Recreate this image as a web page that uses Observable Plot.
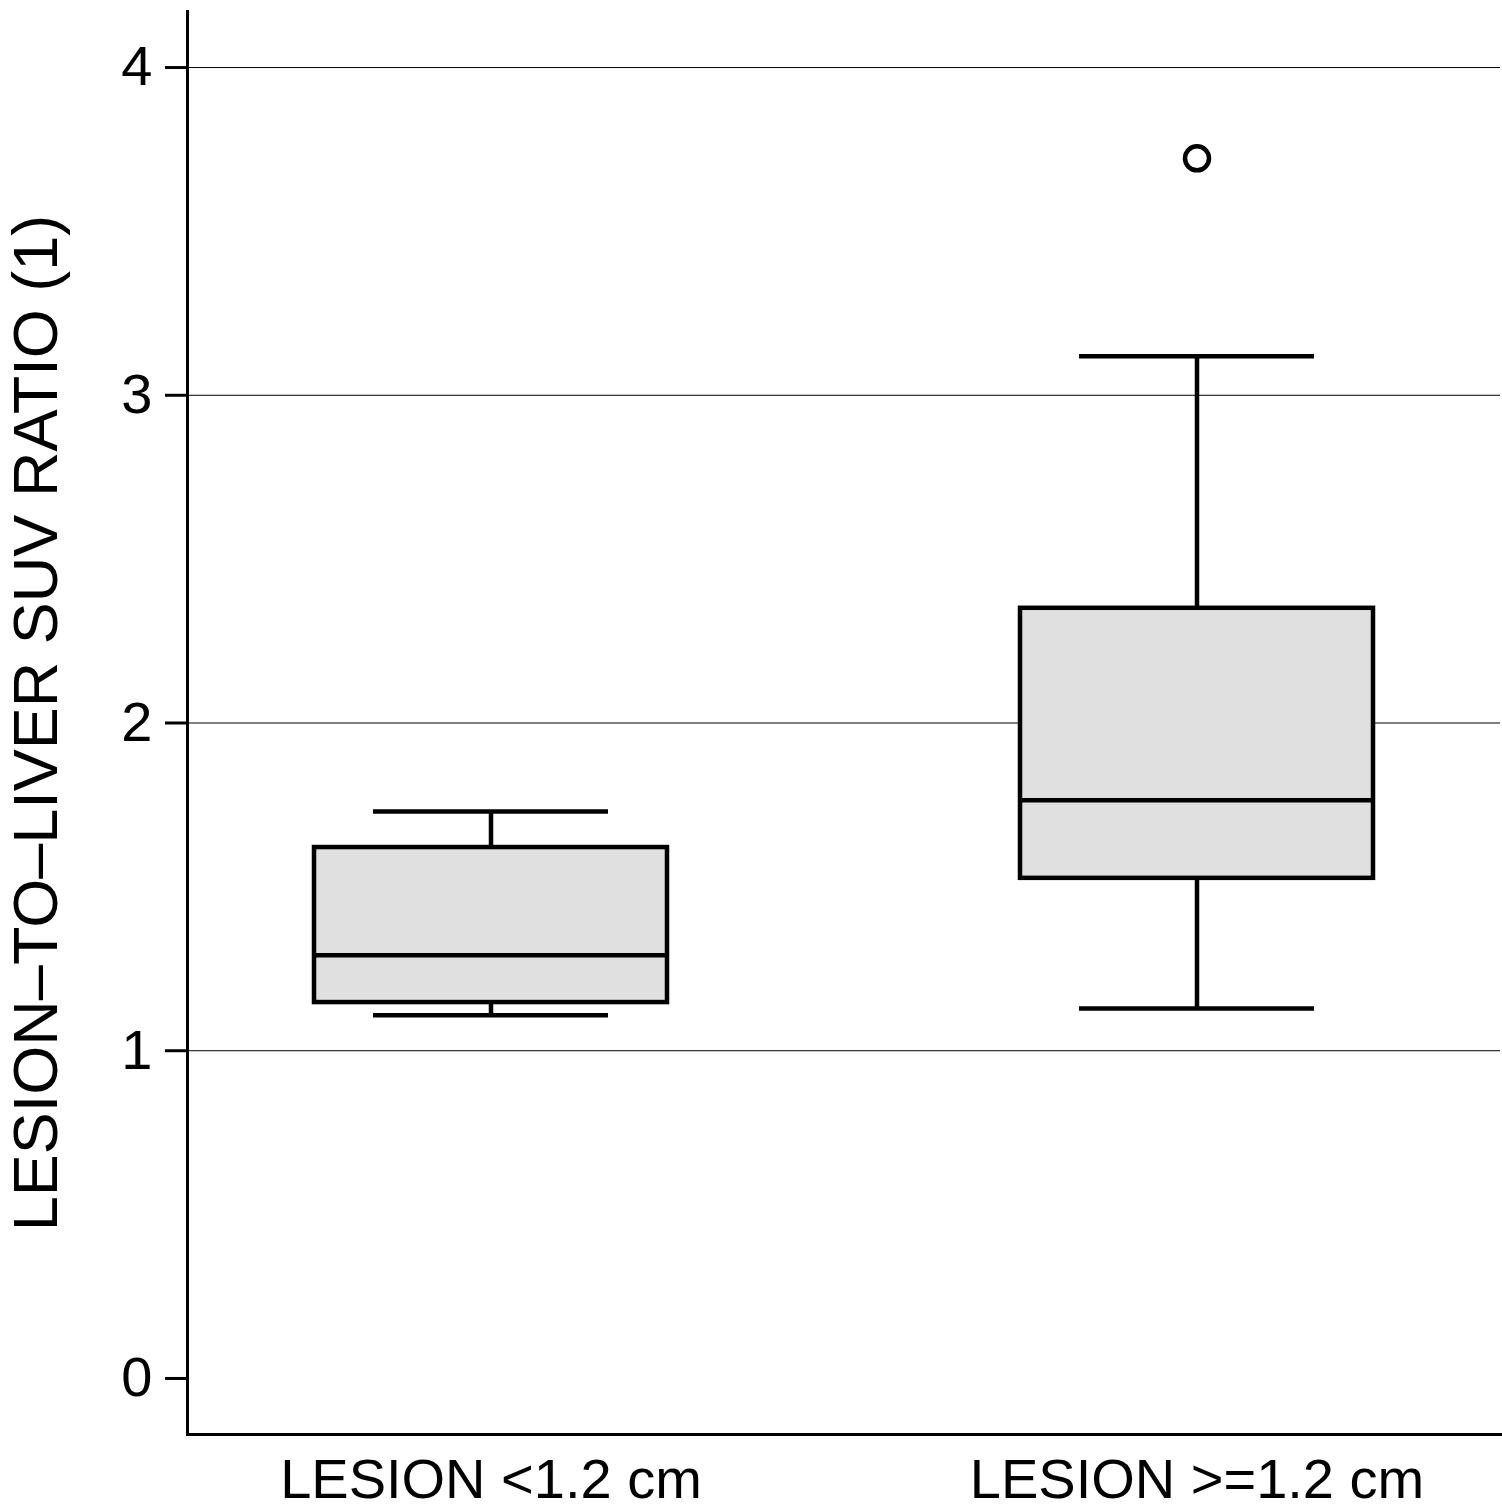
<!DOCTYPE html>
<html>
<head>
<meta charset="utf-8">
<script src="https://cdn.jsdelivr.net/npm/d3@7"></script>
<script src="https://cdn.jsdelivr.net/npm/@observablehq/plot@0.6"></script>
<style>
  html, body { margin: 0; padding: 0; background: #fff; }
  #chart svg { display: block; font-family: "Liberation Sans", Arial, Helvetica, sans-serif; }
</style>
</head>
<body>
<div id="chart"></div>
<script>
// Data
const groups = ["LESION <1.2 cm", "LESION >=1.2 cm"];
const whiskerLow = [1.108, 1.129];
const q1 = [1.147, 1.526];
const median = [1.291, 1.764];
const q3 = [1.620, 2.350];
const whiskerHigh = [1.730, 3.119];
const outlierGroup = ["LESION >=1.2 cm"];
const outlierValue = [3.723];
const yTicks = [0, 1, 2, 3, 4];
const gridTicks = [1, 2, 3, 4];
const yDomain = [-0.171, 4.171];
const yLabel = "LESION\u2013TO\u2013LIVER SUV RATIO (1)";

const boxes = groups.map((g, i) => ({
  group: g, lo: whiskerLow[i], q1: q1[i], med: median[i], q3: q3[i], hi: whiskerHigh[i]
}));
const outliers = outlierGroup.map((g, i) => ({group: g, value: outlierValue[i]}));

const sw = 4.5;
const chart = Plot.plot({
  width: 1502,
  height: 1510,
  marginLeft: 187,
  marginRight: 2,
  marginTop: 11,
  marginBottom: 76,
  style: {fontFamily: '"Liberation Sans", Arial, Helvetica, sans-serif', color: "black", background: "white"},
  x: {domain: groups, paddingInner: 0.5, paddingOuter: 0.1786, align: 0.5},
  y: {domain: yDomain},
  marks: [
    Plot.gridY(gridTicks, {stroke: "black", strokeOpacity: 1, strokeWidth: 1}),
    Plot.axisY(yTicks, {tickSize: 22, tickPadding: 13, fontSize: 56, strokeWidth: 3, tickFormat: "d", label: null}),
    Plot.axisY([], {tickSize: 0, fontSize: 63, label: yLabel, labelAnchor: "center", labelOffset: 175, labelArrow: "none"}),
    Plot.axisX({tickSize: 0, tickPadding: 24, fontSize: 56, label: null}),
    Plot.frame({anchor: "left", stroke: "black", strokeWidth: 3}),
    Plot.frame({anchor: "bottom", stroke: "black", strokeWidth: 3}),
    Plot.ruleX(boxes, {x: "group", y1: "q3", y2: "hi", stroke: "black", strokeWidth: sw}),
    Plot.ruleX(boxes, {x: "group", y1: "lo", y2: "q1", stroke: "black", strokeWidth: sw}),
    Plot.tickY(boxes, {x: "group", y: "hi", stroke: "black", strokeWidth: sw, insetLeft: 59, insetRight: 59}),
    Plot.tickY(boxes, {x: "group", y: "lo", stroke: "black", strokeWidth: sw, insetLeft: 59, insetRight: 59}),
    Plot.barY(boxes, {x: "group", y1: "q1", y2: "q3", fill: "#e0e0e0", stroke: "black", strokeWidth: sw}),
    Plot.tickY(boxes, {x: "group", y: "med", stroke: "black", strokeWidth: sw}),
    Plot.dot(outliers, {x: "group", y: "value", r: 12, stroke: "black", strokeWidth: sw, fill: "none"})
  ]
});
document.getElementById("chart").appendChild(chart);
</script>
</body>
</html>
